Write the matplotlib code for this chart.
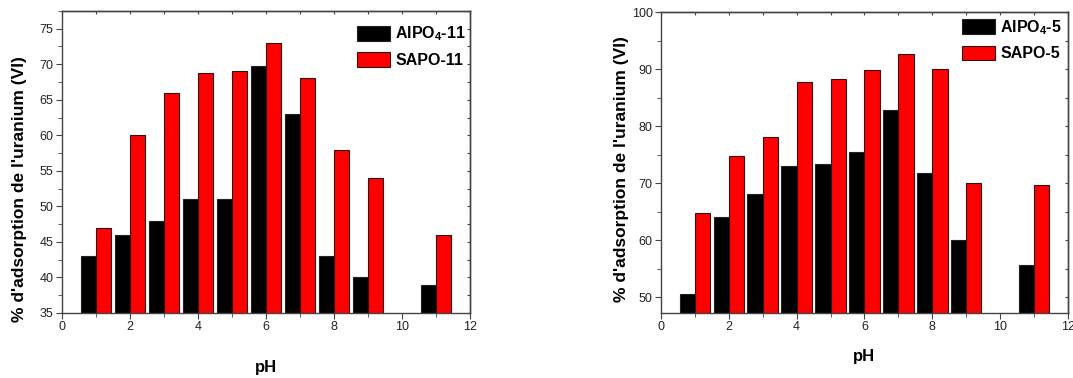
import numpy as np
import matplotlib
matplotlib.use("Agg")
import matplotlib.pyplot as plt
from matplotlib.ticker import MultipleLocator

plt.rcParams['font.family'] = ['Liberation Sans', 'DejaVu Sans']
plt.rcParams['mathtext.fontset'] = 'custom'
plt.rcParams['mathtext.rm'] = 'Liberation Sans:bold'
plt.rcParams['mathtext.bf'] = 'Liberation Sans:bold'

ph = [1, 2, 3, 4, 5, 6, 7, 8, 9, 11]

alpo11 = [43, 46, 48, 51, 51, 69.7, 63, 43, 40, 39]
sapo11 = [47, 60, 66, 68.8, 69, 73, 68, 58, 54, 46]

alpo5 = [50.6, 64, 68, 73, 73.3, 75.4, 82.8, 71.8, 60, 55.7]
sapo5 = [64.8, 74.7, 78, 87.8, 88.2, 89.8, 92.7, 90, 70, 69.7]

labels_left = [r'AlPO$_{4}$-11', 'SAPO-11']
labels_right = [r'AlPO$_{4}$-5', 'SAPO-5']

fig = plt.figure(figsize=(10.73, 3.78), dpi=100)
ax1 = fig.add_axes([0.0578, 0.172, 0.3802, 0.799])
ax2 = fig.add_axes([0.616, 0.172, 0.3793, 0.796])

def draw(ax, a, s, labels, ylim, major, minor, xlabel_pad, ylabel_xy, leg_anchor):
    x = np.array(ph, dtype=float)
    w = 0.45
    ax.bar(x - w / 2, a, width=w, color='black', edgecolor='#222222', linewidth=0.8, label=labels[0])
    ax.bar(x + w / 2, s, width=w, color='#ff0000', edgecolor='#331111', linewidth=0.8, label=labels[1])
    ax.set_xlim(0, 12)
    ax.set_ylim(*ylim)
    ax.xaxis.set_major_locator(MultipleLocator(2))
    ax.xaxis.set_minor_locator(MultipleLocator(1))
    ax.yaxis.set_major_locator(MultipleLocator(major))
    ax.yaxis.set_minor_locator(MultipleLocator(minor))
    ax.tick_params(axis='x', which='both', direction='out', top=False, colors='#444444', labelsize=9)
    ax.tick_params(axis='x', which='major', length=4, pad=2)
    ax.tick_params(axis='x', which='minor', length=3)
    ax.tick_params(axis='y', which='both', direction='out', colors='#444444', labelsize=9)
    ax.tick_params(axis='y', which='major', length=4, pad=2)
    ax.tick_params(axis='y', which='minor', length=3)
    ax.tick_params(axis='both', labelcolor='#222222')
    # top / right ticks pointing inward
    sx = ax.secondary_xaxis('top')
    sx.xaxis.set_major_locator(MultipleLocator(1))
    sx.tick_params(direction='in', length=2.5, labeltop=False, colors='#444444')
    sy = ax.secondary_yaxis('right')
    sy.yaxis.set_major_locator(MultipleLocator(minor))
    sy.tick_params(direction='in', length=2.5, labelright=False, colors='#444444')
    for axx in (ax, sx, sy):
        for sp in axx.spines.values():
            sp.set_color('#444444')
            sp.set_linewidth(1.0)
    ax.set_ylabel("% d'adsorption de l'uranium (VI)", fontsize=12.5, fontweight='bold')
    ax.yaxis.set_label_coords(*ylabel_xy)
    ax.set_xlabel('pH', fontsize=12, fontweight='bold', labelpad=xlabel_pad)
    ax.legend(loc='upper right', bbox_to_anchor=leg_anchor, frameon=False,
              prop={'weight': 'bold', 'size': 11.5},
              handlelength=2.1, handleheight=1.05, labelspacing=0.55, handletextpad=0.3,
              borderaxespad=0.0, borderpad=0.0)

draw(ax1, alpo11, sapo11, labels_left, (35, 77.5), 5, 2.5, 19, (-0.087, 0.41), (0.99, 0.955))
draw(ax2, alpo5, sapo5, labels_right, (47.2, 100), 10, 5, 11, (-0.078, 0.477), (0.985, 0.98))

fig.savefig('out.png', dpi=100)
